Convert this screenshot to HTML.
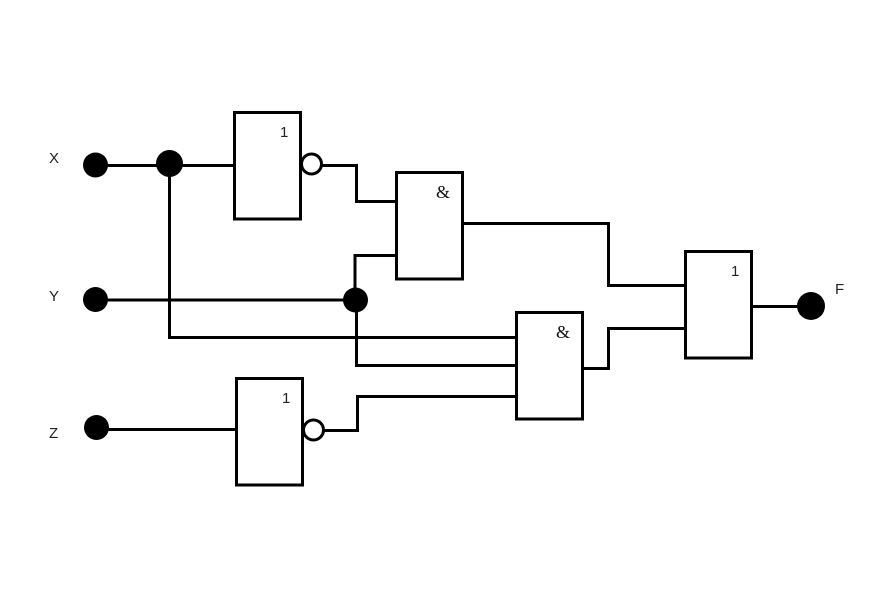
<!DOCTYPE html>
<html>
<head>
<meta charset="utf-8">
<style>
html,body{margin:0;padding:0;background:#fff;width:884px;height:602px;overflow:hidden}
svg{display:block}
text{font-family:"Liberation Sans",sans-serif;font-size:15px;fill:#222}
text.a{font-family:"Liberation Serif",serif;font-size:18px;fill:#111}
</style>
</head>
<body>
<svg width="884" height="602" viewBox="0 0 884 602" xmlns="http://www.w3.org/2000/svg">
<rect width="884" height="602" fill="#fff"/>
<g fill="none" stroke="#000" stroke-width="3">
<path d="M95 165.500H235"/>
<path d="M169.500 163V337.500H516"/>
<path d="M95 300H355"/>
<path d="M355 300V255.500H396"/>
<path d="M356.500 300V365.500H516"/>
<path d="M322 165.500H356.500V201.500H396"/>
<path d="M462 223.500H608.500V285.500H685"/>
<path d="M582 368.500H608.500V328.500H685"/>
<path d="M96 429.500H236"/>
<path d="M323 430.500H357.500V396.500H516"/>
<path d="M751 306.500H811"/>
<rect x="234.500" y="112.500" width="66" height="106.500" fill="#fff"/>
<rect x="396.500" y="172.500" width="66" height="106.500" fill="#fff"/>
<rect x="516.500" y="312.500" width="66" height="106.500" fill="#fff"/>
<rect x="685.500" y="251.500" width="66" height="106.500" fill="#fff"/>
<rect x="236.500" y="378.500" width="66" height="106.500" fill="#fff"/>
<circle cx="311.500" cy="164" r="10" fill="#fff"/>
<circle cx="313.500" cy="430" r="10" fill="#fff"/>
</g>
<g fill="#000">
<circle cx="95.500" cy="165" r="12.500"/>
<circle cx="169.500" cy="163.500" r="13.500"/>
<circle cx="95.500" cy="299.500" r="12.500"/>
<circle cx="355.500" cy="300" r="12.500"/>
<circle cx="96.500" cy="427.500" r="12.500"/>
<circle cx="811" cy="306" r="14"/>
</g>
<text x="49" y="163">X</text>
<text x="49" y="301">Y</text>
<text x="49" y="438">Z</text>
<text x="835" y="294">F</text>
<text x="280" y="137">1</text>
<text x="282" y="403">1</text>
<text x="731" y="276">1</text>
<text class="a" x="436" y="198">&amp;</text>
<text class="a" x="556" y="338">&amp;</text>
</svg>
</body>
</html>
